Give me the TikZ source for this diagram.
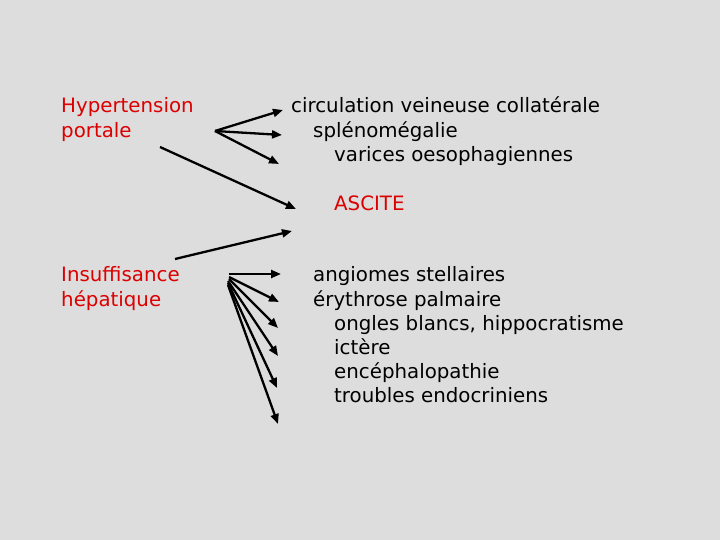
\documentclass[tikz,border=0pt]{standalone}
\usepackage{fontspec}
\setmainfont{DejaVu Sans}
\usetikzlibrary{arrows.meta}
\definecolor{bg}{RGB}{221,221,221}
\definecolor{tred}{RGB}{220,0,0}
\begin{document}
\begin{tikzpicture}[x=1bp,y=-1bp,
  txt/.style={anchor=base west,inner sep=0pt,font=\fontsize{19.8bp}{24bp}\selectfont},
  redtxt/.style={txt,text=tred},
  arr/.style={line width=2.3bp,-{Triangle[length=10bp,width=8bp]}}]
\fill[bg] (0,0) rectangle (720,540);
\useasboundingbox (0,0) rectangle (720,540);
% left labels
\node[redtxt] (hyp1) at (61,113) {Hypertension};
\node[redtxt] (hyp2) at (61,138) {portale};
\node[redtxt] (ins1) at (61,282) {Insuffisance};
\node[redtxt] (ins2) at (61,306) {hépatique};
% right texts
\node[txt] (c1) at (291,113) {circulation veineuse collatérale};
\node[txt] (c2) at (313,138) {splénomégalie};
\node[txt] (c3) at (334,162) {varices oesophagiennes};
\node[redtxt] (asc) at (334,211) {ASCITE};
\node[txt] (d1) at (313,282) {angiomes stellaires};
\node[txt] (d2) at (313,306) {érythrose palmaire};
\node[txt] (d3) at (334,330) {ongles blancs, hippocratisme};
\node[txt] (d4) at (334,354) {ictère};
\node[txt] (d5) at (334,378) {encéphalopathie};
\node[txt] (d6) at (334,402) {troubles endocriniens};
% coordinates
\coordinate (o1) at (215,131);
\coordinate (e1) at (283,110);
\coordinate (e2) at (282,135);
\coordinate (e3) at (279,164);
\coordinate (s4) at (160,147);
\coordinate (e4) at (296,209);
\coordinate (s5) at (175,259);
\coordinate (e5) at (292,231);
\coordinate (o6) at (229,274);
\coordinate (o7) at (229,277);
\coordinate (o8) at (229,279);
\coordinate (o9) at (228,281);
\coordinate (o10) at (228,283);
\coordinate (o11) at (228,285);
\coordinate (f1) at (281,274);
\coordinate (f2) at (279,302);
\coordinate (f3) at (278,328);
\coordinate (f4) at (278,356);
\coordinate (f5) at (277,388);
\coordinate (f6) at (278,424);
% arrows
\draw[arr] (o1) -- (e1);
\draw[arr] (o1) -- (e2);
\draw[arr] (o1) -- (e3);
\draw[arr] (s4) -- (e4);
\draw[arr] (s5) -- (e5);
\draw[arr] (o6) -- (f1);
\draw[arr] (o7) -- (f2);
\draw[arr] (o8) -- (f3);
\draw[arr] (o9) -- (f4);
\draw[arr] (o10) -- (f5);
\draw[arr] (o11) -- (f6);
\end{tikzpicture}
\end{document}
